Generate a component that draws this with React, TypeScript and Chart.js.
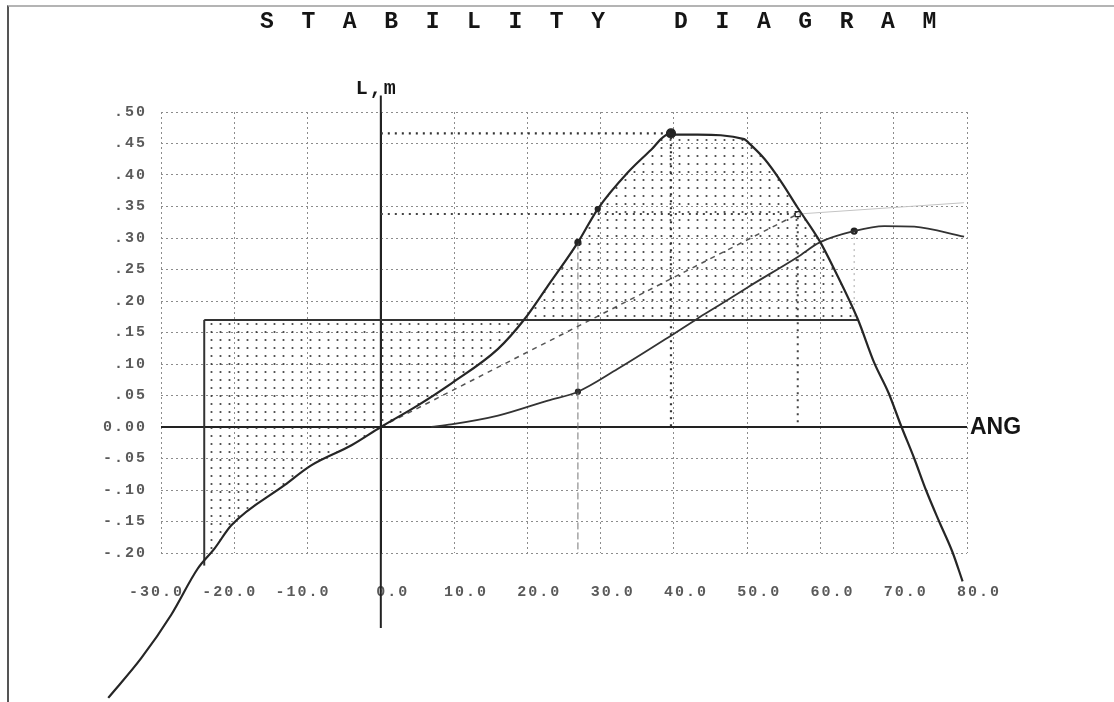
import React, { useEffect, useRef } from "react";
import { Chart, registerables } from "chart.js";

Chart.register(...registerables);

// ---- text ----
const TITLE = "STABILITY DIAGRAM";
const Y_AXIS_TITLE = "L,m";
const X_AXIS_TITLE = "ANG";

// ---- axis ranges / tick labels (index order: min -> max) ----
const angleRange = [-30, 80];
const leverRange = [-0.2, 0.5];
const xTickLabels = ["-30.0", "-20.0", "-10.0", "0.0", "10.0", "20.0", "30.0", "40.0", "50.0", "60.0", "70.0", "80.0"];
const yTickLabels = ["-.20", "-.15", "-.10", "-.05", "0.00", ".05", ".10", ".15", ".20", ".25", ".30", ".35", ".40", ".45", ".50"];

// ---- GZ (righting lever) curve ----
const gzAngle = [-37.2, -32.7, -28.6, -25.0, -22.7, -20.4, -13.1, -9.5, -4.0, 0, 5.0, 9.6, 16.0, 19.6, 22.8, 26.9, 29.6, 33.7, 36.9, 39.2, 43.2, 49.6, 50.2, 52.4, 54.6, 56.9, 59.9, 61.9, 65.1, 67.3, 69.3, 71.0, 72.8, 74.4, 76.2, 78.0, 79.4];
const gzLever = [-0.43, -0.367, -0.298, -0.225, -0.193, -0.156, -0.092, -0.061, -0.029, 0, 0.034, 0.069, 0.124, 0.171, 0.224, 0.293, 0.346, 0.404, 0.44, 0.464, 0.464, 0.457, 0.451, 0.425, 0.39, 0.348, 0.295, 0.25, 0.171, 0.103, 0.054, 0.002, -0.05, -0.1, -0.15, -0.198, -0.245];

// ---- second (dynamic) curve ----
const dynAngle = [6.9, 9.6, 16.0, 22.8, 26.9, 32.3, 39.6, 43.2, 46.0, 50.1, 56.9, 59.9, 64.6, 68.7, 72.8, 79.6];
const dynLever = [0.0, 0.004, 0.018, 0.042, 0.056, 0.092, 0.145, 0.172, 0.192, 0.222, 0.27, 0.293, 0.311, 0.319, 0.318, 0.302];

// ---- tangent line ----
const tangentAngle = [0, 56.9];
const tangentLever = [0, 0.338];
const tangentExtAngle = [56.9, 79.6];
const tangentExtLever = [0.338, 0.356];

// ---- heeling lever (weather criterion) ----
const heelAngle = [-24.1, 65.1];
const heelLever = [0.17, 0.17];
const heelEdgeAngle = [-24.1, -24.1];
const heelEdgeLever = [-0.22, 0.17];

// ---- reference dotted lines ----
const maxGzAngle = [0, 39.6, 39.6];
const maxGzLever = [0.466, 0.466, 0];
const refAngle = [0, 56.9, 56.9];
const refLever = [0.338, 0.338, 0];
const dropAngle = [26.9, 26.9];
const dropLever = [0.293, -0.2];
const drop2Angle = [64.6, 64.6];
const drop2Lever = [0.311, 0.171];

// ---- vertical lever axis (extends past the grid) ----
const axisAngle = [0, 0];
const axisLever = [-0.319, 0.526];

// ---- markers ----
const markAngle = [26.9, 29.6, 39.6, 56.9, 26.9, 64.6];
const markLever = [0.293, 0.346, 0.466, 0.338, 0.056, 0.311];
const markStyle = ["circle", "circle", "circle", "rect", "circle", "circle"];
const markRadius = [3, 2.5, 4.5, 3.5, 2.5, 3];
const markFill = ["#222", "#222", "#222", "#fff", "#333", "#222"];

const pts = (xs: number[], ys: number[]) => xs.map((x, i) => ({ x, y: ys[i] }));

function makeDots(): any {
  const c = document.createElement("canvas");
  c.width = 9;
  c.height = 8;
  const g = c.getContext("2d");
  if (!g) return "rgba(0,0,0,0.12)";
  g.fillStyle = "rgba(50,50,50,0.9)";
  g.beginPath();
  g.arc(4.5, 4, 1.1, 0, Math.PI * 2);
  g.fill();
  return g.createPattern(c, "repeat") || "rgba(0,0,0,0.12)";
}

const textPlugin = {
  id: "diagramText",
  beforeDraw(chart: any) {
    (chart.ctx as any).letterSpacing = "2px";
  },
  afterDraw(chart: any) {
    const { ctx, chartArea, scales } = chart;
    const xs = scales.x;
    const ys = scales.y;
    ctx.save();
    (ctx as any).letterSpacing = "0px";
    ctx.fillStyle = "#151515";
    ctx.textAlign = "left";
    ctx.textBaseline = "alphabetic";
    ctx.font = 'bold 23px "Liberation Mono", monospace';
    ctx.fillText(TITLE.split("").join("  "), 260, 28);
    ctx.font = 'bold 20px "Liberation Mono", monospace';
    (ctx as any).letterSpacing = "2px";
    ctx.fillText(Y_AXIS_TITLE, xs.getPixelForValue(0) - 25, 94);
    (ctx as any).letterSpacing = "0px";
    ctx.font = 'bold 23px "Liberation Sans", sans-serif';
    ctx.textBaseline = "middle";
    ctx.fillText(X_AXIS_TITLE, chartArea.right + 3, ys.getPixelForValue(0) + 1);
    ctx.restore();
    (ctx as any).letterSpacing = "0px";
  },
};

const isZero = (c: any) => !!(c && c.tick && Math.abs(c.tick.value) < 1e-9);

export default function App() {
  const ref = useRef<HTMLCanvasElement | null>(null);

  useEffect(() => {
    if (!ref.current) return;
    const dots = makeDots();
    const tickFont = { family: '"Liberation Mono", monospace', size: 15, weight: "bold" as const };
    const line = (data: any, extra: any) => ({
      data,
      showLine: true,
      pointRadius: 0,
      fill: false,
      clip: false,
      ...extra,
    });
    const chart = new Chart(ref.current, {
      type: "scatter",
      data: {
        datasets: [
          line(pts(gzAngle, gzLever), { label: "GZ", borderColor: "#262626", borderWidth: 2.2, cubicInterpolationMode: "monotone" }),
          line(pts(heelAngle, heelLever), { label: "Heeling lever", borderColor: "#333", borderWidth: 2, fill: { target: 0 }, backgroundColor: dots }),
          line(pts(heelEdgeAngle, heelEdgeLever), { label: "edge", borderColor: "#333", borderWidth: 2 }),
          line(pts(dynAngle, dynLever), { label: "Dynamic", borderColor: "#333", borderWidth: 1.8, cubicInterpolationMode: "monotone" }),
          line(pts(tangentAngle, tangentLever), { label: "Tangent", borderColor: "#555", borderWidth: 1.5, borderDash: [5, 5] }),
          line(pts(tangentExtAngle, tangentExtLever), { label: "Tangent ext", borderColor: "#c4c4c4", borderWidth: 1 }),
          line(pts(maxGzAngle, maxGzLever), { label: "Max GZ", borderColor: "#333", borderWidth: 2.2, borderDash: [2, 5] }),
          line(pts(refAngle, refLever), { label: "Ref", borderColor: "#444", borderWidth: 2, borderDash: [2, 5] }),
          line(pts(dropAngle, dropLever), { label: "Drop", borderColor: "#777", borderWidth: 1, borderDash: [7, 3] }),
          line(pts(drop2Angle, drop2Lever), { label: "Drop2", borderColor: "#aaa", borderWidth: 1, borderDash: [2, 4] }),
          line(pts(axisAngle, axisLever), { label: "Axis", borderColor: "#222", borderWidth: 2 }),
          {
            label: "Marks",
            data: pts(markAngle, markLever),
            showLine: false,
            clip: false,
            pointStyle: markStyle,
            pointRadius: markRadius,
            backgroundColor: markFill,
            borderColor: "#222",
            borderWidth: 1.2,
          },
        ] as any,
      },
      options: {
        responsive: false,
        animation: false,
        devicePixelRatio: 1,
        layout: { padding: { left: 0, right: 147, top: 112, bottom: 89 } },
        plugins: {
          legend: { display: false },
          tooltip: { enabled: false },
          title: { display: false },
        },
        scales: {
          x: {
            type: "linear",
            // range set after data limits so points beyond the grid are still drawn
            afterDataLimits: (s: any) => {
              s.min = angleRange[0];
              s.max = angleRange[1];
            },
            afterFit: (s: any) => {
              s.height = 60;
            },
            ticks: {
              stepSize: 10,
              autoSkip: false,
              maxRotation: 0,
              minRotation: 0,
              padding: 30,
              labelOffset: 12,
              color: "#5a5a5a",
              font: tickFont,
              callback: (v: any, i: number) => (xTickLabels[i] ?? String(v)) + (Number(v) < 0 ? "   " : ""),
            },
            grid: {
              drawTicks: false,
              color: (c: any) => (isZero(c) ? "#222" : "#8c8c8c"),
              lineWidth: (c: any) => (isZero(c) ? 2 : 1),
            },
            border: { display: false, dash: (c: any) => (isZero(c) ? [] : [2, 3]) },
          },
          y: {
            type: "linear",
            min: leverRange[0],
            max: leverRange[1],
            afterFit: (s: any) => {
              s.width = 161;
            },
            ticks: {
              stepSize: 0.05,
              autoSkip: false,
              padding: 14,
              color: "#5a5a5a",
              font: tickFont,
              callback: (v: any, i: number) => yTickLabels[i] ?? String(v),
            },
            grid: {
              drawTicks: false,
              color: (c: any) => (isZero(c) ? "#222" : "#8c8c8c"),
              lineWidth: (c: any) => (isZero(c) ? 2 : 1),
            },
            border: { display: false, dash: (c: any) => (isZero(c) ? [] : [2, 3]) },
          },
        },
      } as any,
      plugins: [textPlugin as any],
    });
    return () => chart.destroy();
  }, []);

  return (
    <div style={{ position: "fixed", left: 0, top: 0, width: 1114, height: 702, background: "#fff", overflow: "hidden" }}>
      <div
        style={{
          position: "absolute",
          left: 7,
          top: 5,
          right: 0,
          bottom: -4,
          borderLeft: "2px solid #555",
          borderTop: "2px solid #b4b4b4",
        }}
      />
      <canvas ref={ref} width={1114} height={702} style={{ position: "absolute", left: 0, top: 0 }} />
    </div>
  );
}
